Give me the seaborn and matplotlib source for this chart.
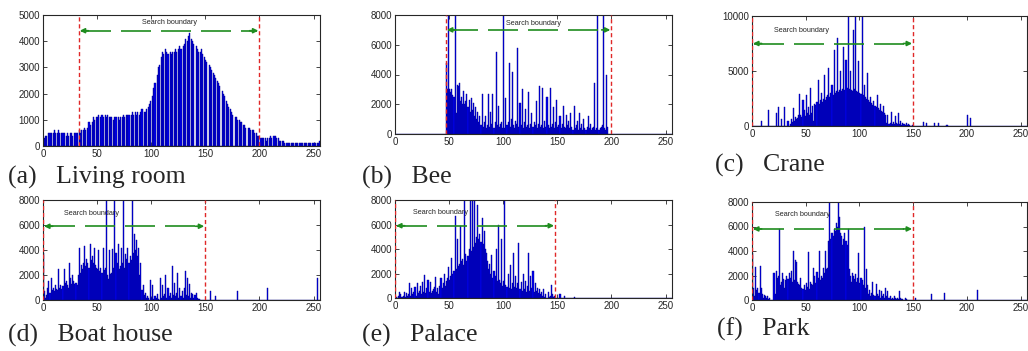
import numpy as np
import matplotlib
matplotlib.use("Agg")
import matplotlib.pyplot as plt
import seaborn as sns

sns.set_style("ticks")
plt.rcParams["font.family"] = ["Liberation Sans", "DejaVu Sans"]

levels = np.arange(256)
Z = [0] * 16

# pixel counts per gray level, in hundreds
living_room = [
    2, 3, 4, 4, 0, 5, 5, 5, 0, 5, 6, 5, 0, 5, 6, 5,
    0, 5, 5, 5, 0, 4, 5, 4, 0, 5, 5, 4, 0, 5, 5, 5,
    0, 6, 5, 6, 0, 6, 7, 6, 0, 7, 9, 8, 0, 9, 11, 10,
    0, 11, 11, 12, 0, 11, 12, 11, 0, 12, 11, 12, 0, 11, 11, 11,
    0, 10, 11, 11, 0, 11, 10, 11, 0, 11, 12, 11, 0, 12, 12, 12,
    0, 12, 13, 12, 0, 13, 12, 13, 0, 12, 13, 14, 0, 13, 13, 14,
    0, 15, 16, 17, 0, 19, 22, 24, 0, 27, 30, 31, 0, 34, 36, 35,
    0, 37, 36, 35, 0, 36, 35, 36, 0, 36, 37, 36, 0, 37, 38, 37,
    0, 38, 39, 41, 0, 40, 42, 43, 0, 41, 40, 39, 0, 38, 37, 36,
    0, 36, 37, 35, 0, 34, 33, 32, 0, 31, 30, 29, 0, 28, 27, 26,
    0, 25, 24, 23, 0, 21, 20, 19, 0, 17, 16, 15, 0, 14, 13, 12,
    0, 11, 11, 10, 0, 10, 9, 9, 0, 8, 8, 7, 0, 7, 7, 6,
    0, 6, 6, 5, 0, 5, 4, 4, 0, 3, 3, 3, 0, 3, 2, 3,
    0, 3, 4, 3, 0, 4, 4, 3, 0, 3, 2, 2, 0, 2, 2, 1,
    0, 1, 1, 1, 0, 1, 1, 1, 0, 1, 1, 1, 0, 1, 1, 1,
    0, 1, 1, 1, 0, 1, 1, 1, 0, 1, 1, 1, 0, 1, 1, 2,
]

bee = Z + Z + [0] * 15 + [48] + [
    30, 85, 30, 28, 30, 26, 25, 90, 14, 33, 32, 34, 22, 25, 20, 29,
    20, 22, 27, 18, 23, 15, 24, 16, 21, 12, 18, 10, 15, 8, 12, 6,
    27, 5, 8, 12, 4, 6, 27, 5, 15, 7, 27, 4, 8, 55, 6, 19,
    5, 7, 8, 4, 95, 4, 24, 6, 8, 48, 5, 10, 42, 6, 4, 9,
    7, 58, 5, 21, 6, 30, 4, 8, 17, 5, 6, 28, 4, 7, 14, 5,
    8, 6, 22, 4, 7, 32, 5, 6, 31, 4, 9, 5, 25, 6, 4, 31,
    5, 7, 18, 4, 8, 23, 5, 6, 12, 4, 7, 19, 5, 4, 13, 6,
    9, 4, 14, 5, 3, 19, 4, 6, 9, 3, 14, 4, 7, 3, 10, 4,
    3, 5, 12, 4, 7, 3, 4, 5, 34, 3, 4, 95, 3, 4, 5, 6,
    95, 4, 3, 40, 5, 0, 0, 0, 0, 0, 0, 0, 0, 0, 0, 0,
] + Z + Z + Z

crane = [
    0, 0, 0, 0, 0, 0, 0, 0, 5, 0, 0, 0, 0, 0, 0, 15,
    0, 0, 0, 0, 0, 0, 12, 0, 17, 0, 0, 6, 0, 0, 17, 0,
    0, 5, 0, 2, 6, 4, 16, 5, 8, 6, 7, 10, 29, 10, 8, 24,
    15, 9, 28, 12, 17, 10, 35, 12, 18, 5, 20, 19, 22, 42, 20, 24,
    30, 22, 25, 46, 24, 26, 28, 53, 26, 30, 37, 28, 69, 30, 32, 80,
    31, 33, 50, 32, 34, 72, 33, 60, 35, 105, 34, 50, 33, 32, 87, 34,
    105, 32, 31, 59, 30, 29, 105, 28, 37, 26, 25, 48, 24, 22, 26, 21,
    19, 23, 18, 17, 28, 16, 15, 20, 14, 13, 18, 12, 10, 3, 10, 2,
    3, 13, 2, 4, 2, 9, 3, 2, 12, 2, 5, 1, 3, 2, 1, 3,
    1, 2, 1, 0, 0, 1, 0, 0, 0, 0, 0, 0, 0, 0, 0, 4,
    0, 0, 3, 0, 0, 0, 0, 0, 0, 3, 0, 0, 0, 3, 0, 0,
    0, 0, 0, 0, 0, 1, 0, 0, 0, 0, 0, 0, 0, 0, 0, 0,
    0, 0, 0, 0, 0, 0, 0, 0, 10, 0, 0, 7, 0, 0, 0, 0,
] + Z + Z + Z

boat_house = [
    38, 7, 2, 4, 10, 15, 6, 18, 8, 10, 7, 12, 9, 8, 25, 10,
    12, 9, 11, 25, 14, 15, 12, 10, 30, 18, 13, 20, 15, 13, 14, 12,
    20, 42, 22, 28, 25, 30, 43, 27, 33, 30, 26, 45, 32, 35, 30, 42,
    28, 26, 25, 40, 23, 26, 22, 42, 24, 26, 95, 20, 17, 40, 21, 22,
    41, 26, 95, 38, 30, 45, 25, 27, 42, 30, 95, 26, 37, 33, 42, 30,
    35, 32, 95, 38, 53, 40, 48, 35, 42, 20, 30, 8, 12, 4, 6, 2,
    3, 2, 0, 16, 2, 12, 1, 3, 2, 5, 1, 0, 18, 2, 12, 3,
    5, 20, 2, 10, 3, 6, 2, 27, 4, 14, 3, 6, 22, 2, 10, 3,
    7, 2, 10, 23, 4, 18, 3, 13, 2, 6, 5, 2, 4, 6, 2, 1,
    1, 0, 0, 0, 0, 0, 0, 0, 0, 0, 7, 0, 0, 0, 0, 3,
    0, 0, 0, 0, 0, 0, 0, 0, 0, 0, 0, 0, 0, 0, 0, 0,
    0, 0, 0, 7, 0, 0, 0, 0, 0, 0, 0, 0, 0, 0, 0, 0,
    0, 0, 0, 0, 0, 0, 0, 0, 0, 0, 0, 0, 0, 0, 0, 10,
] + Z + Z + [0, 0, 0, 0, 0, 0, 0, 0, 0, 0, 0, 0, 0, 18, 0, 0]

palace = [
    0, 1, 0, 2, 5, 3, 1, 2, 5, 1, 4, 2, 3, 12, 2, 8,
    3, 5, 9, 2, 12, 4, 6, 10, 3, 13, 5, 19, 4, 8, 15, 5,
    13, 4, 6, 7, 9, 17, 5, 8, 3, 10, 16, 8, 12, 20, 10, 14,
    16, 25, 15, 18, 33, 20, 22, 67, 24, 48, 26, 28, 59, 30, 32, 27,
    95, 36, 30, 34, 40, 95, 38, 95, 42, 95, 45, 50, 76, 48, 52, 46,
    65, 44, 55, 40, 37, 30, 24, 28, 20, 35, 16, 22, 18, 40, 14, 60,
    15, 12, 48, 10, 14, 95, 11, 9, 20, 8, 27, 7, 12, 37, 9, 18,
    8, 12, 45, 7, 13, 6, 20, 7, 14, 5, 10, 37, 6, 18, 8, 22,
    5, 12, 6, 8, 4, 7, 3, 5, 2, 7, 1, 3, 0, 5, 1, 2,
    11, 3, 1, 2, 0, 0, 0, 0, 3, 0, 0, 0, 2, 0, 0, 0,
    0, 0, 0, 0, 0, 1, 0, 0, 0, 0, 0, 0, 0, 0, 0, 0,
] + Z + Z + Z + Z + Z

park = [
    38, 10, 3, 27, 8, 10, 6, 28, 10, 5, 2, 4, 3, 2, 3, 1,
    2, 0, 0, 0, 22, 5, 24, 18, 20, 58, 12, 15, 22, 17, 10, 16,
    20, 17, 22, 18, 24, 15, 40, 16, 33, 31, 15, 13, 12, 18, 10, 9,
    12, 8, 14, 11, 39, 9, 15, 13, 12, 26, 20, 14, 23, 18, 40, 16,
    20, 18, 26, 22, 40, 25, 26, 48, 95, 50, 55, 52, 58, 56, 63, 60,
    95, 68, 55, 52, 45, 50, 55, 48, 45, 58, 25, 20, 15, 22, 20, 17,
    21, 15, 18, 38, 14, 18, 16, 12, 60, 10, 25, 12, 5, 8, 3, 6,
    15, 4, 3, 13, 5, 3, 8, 2, 7, 3, 5, 2, 10, 3, 7, 2,
    3, 1, 2, 1, 3, 2, 1, 2, 1, 7, 2, 1, 1, 0, 2, 1,
    0, 0, 0, 0, 0, 0, 0, 0, 2, 0, 0, 0, 0, 0, 0, 0,
    0, 0, 0, 0, 0, 0, 0, 5, 0, 0, 0, 0, 0, 0, 0, 0,
    0, 0, 0, 6, 0, 0, 0, 0, 0, 0, 0, 0, 0, 0, 0, 0,
    0, 0, 0, 0, 0, 0, 0, 0, 0, 0, 0, 0, 0, 0, 0, 0,
    0, 8, 0, 0, 0, 0, 0, 0, 0, 0, 0, 0, 0, 0, 0, 0,
] + Z + Z

captions = ["(a)   Living room", "(b)   Bee", "(c)   Crane",
            "(d)   Boat house", "(e)   Palace", "(f)   Park"]
boundaries = [(33, 200), (47, 200), (0, 150), (0, 150), (0, 148), (0, 150)]
y_max = [5000, 8000, 10000, 8000, 8000, 8000]
y_ticks = [range(0, 5001, 1000), range(0, 8001, 2000), [0, 5000, 10000],
           range(0, 8001, 2000), range(0, 8001, 2000), range(0, 8001, 2000)]
arrow_y = [4400, 7000, 7500, 5900, 5900, 5800]
label_pos = [(117, 4700), (128, 7450), (46, 8700), (45, 6900), (42, 7000), (47, 7000)]

W, H = 1028, 351
# axes boxes in pixels: left, top, right, bottom
boxes = [(43, 15, 320, 146), (395, 15, 672, 134), (752, 16, 1027, 126),
         (43, 200, 320, 300), (395, 200, 672, 298), (752, 202, 1027, 300)]
cap_pos = [(8, 184), (362, 184), (715, 172), (8, 342), (362, 342), (717, 336)]

data = [living_room, bee, crane, boat_house, palace, park]
for d in data:
    assert len(d) == 256, len(d)

fig = plt.figure(figsize=(W / 100, H / 100), dpi=100)
green = "#1f8c1f"

for i in range(6):
    l, t, r, b = boxes[i]
    ax = fig.add_axes([l / W, 1 - b / H, (r - l) / W, (b - t) / H])
    sns.histplot(x=levels, weights=np.array(data[i]) * 100, bins=256, binrange=(0, 256),
                 color="#0000f0", edgecolor="#00008c", linewidth=0.3, alpha=1, ax=ax)
    ax.set_xlim(0, 256)
    ax.set_ylim(0, y_max[i])
    ax.set_xticks([0, 50, 100, 150, 200, 250])
    ax.set_yticks(list(y_ticks[i]))
    ax.set_xlabel("")
    ax.set_ylabel("")
    ax.tick_params(direction="in", top=True, right=True, length=3, width=0.6,
                   labelsize=7, pad=2)
    for s in ax.spines.values():
        s.set_linewidth(0.8)

    for x in boundaries[i]:
        ax.axvline(x, color="#e02828", ls=(0, (3, 2)), lw=1, zorder=5)

    # search boundary arrow
    x0, x1 = boundaries[i]
    y = arrow_y[i]
    ax.plot([x0 + 2, x1 - 2], [y, y], color=green, ls=(0, (18, 6)), lw=1.2, zorder=6)
    for xa, xb in [(x0 + 1, x0 + 9), (x1 - 1, x1 - 9)]:
        ax.annotate("", xy=(xa, y), xytext=(xb, y),
                    arrowprops=dict(arrowstyle="-|>", color=green, lw=1.2,
                                    mutation_scale=7, shrinkA=0, shrinkB=0), zorder=6)
    ax.text(label_pos[i][0], label_pos[i][1], "Search boundary", fontsize=5.2,
            ha="center", va="center", zorder=7)

    fig.text(cap_pos[i][0] / W, 1 - cap_pos[i][1] / H, captions[i],
             family="Liberation Serif", fontsize=18.5, ha="left", va="baseline")

fig.savefig("out.png", dpi=100)
